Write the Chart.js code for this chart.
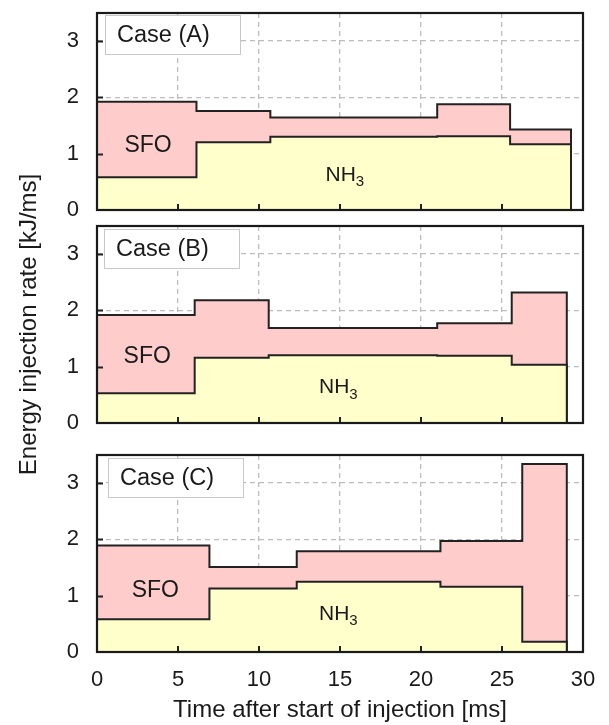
<!DOCTYPE html>
<html>
<head>
<meta charset="utf-8">
<script src="https://cdn.jsdelivr.net/npm/chart.js@4/dist/chart.umd.min.js"></script>
<style>
  html, body { margin:0; padding:0; background:#fff; }
  #wrap { position:relative; width:609px; height:725px; }
  #wrap canvas { position:absolute; left:0; top:0; }
</style>
</head>
<body>
<div id="wrap">
  <canvas id="cA" width="609" height="725"></canvas>
  <canvas id="cB" width="609" height="725"></canvas>
  <canvas id="cC" width="609" height="725"></canvas>
</div>
<script>
// ---- data (time edges in ms, rates in kJ/ms) ----
const caseNames = ['Case (A)', 'Case (B)', 'Case (C)'];
const edgesA = [0, 6.14, 10.7, 21.0, 25.5, 29.26];
const nh3A   = [0.58, 1.205, 1.30, 1.31, 1.17];
const totalA = [1.925, 1.76, 1.645, 1.88, 1.43];

const edgesB = [0, 6.03, 10.6, 21.0, 25.6, 29.0];
const nh3B   = [0.53, 1.16, 1.205, 1.195, 1.035];
const totalB = [1.92, 2.18, 1.69, 1.77, 2.32];

const edgesC = [0, 6.94, 12.33, 21.2, 26.25, 29.0];
const nh3C   = [0.58, 1.13, 1.25, 1.16, 0.18];
const totalC = [1.89, 1.51, 1.79, 1.97, 3.34];

const xTicks = [0, 5, 10, 15, 20, 25, 30];
const yTicks = [0, 1, 2, 3];

// label anchor points (data coords)
const sfoPos = [{x:3.15, y:1.14}, {x:3.1, y:1.17}, {x:3.6, y:1.09}];
const nh3Pos = [{x:15.3, y:0.62}, {x:14.9, y:0.63}, {x:14.9, y:0.67}];

// ---- helpers ----
function steps(edges, vals) {
  const pts = vals.map((v, i) => ({x: edges[i], y: v}));
  pts.push({x: edges[edges.length - 1], y: vals[vals.length - 1]});
  pts.push({x: edges[edges.length - 1], y: 0});
  return pts;
}

const FONT = "'Liberation Sans', Arial, sans-serif";
const TXT = '#1a1a1a';

const deco = {
  id: 'deco',
  afterDraw(chart) {
    const o = chart.options.plugins.deco;
    const {ctx, chartArea: a, scales: {x, y}} = chart;
    ctx.save();
    // inward tick marks
    ctx.strokeStyle = '#222';
    ctx.lineWidth = 2;
    ctx.beginPath();
    yTicks.forEach(v => {
      if (v <= 0) return;
      const py = Math.round(y.getPixelForValue(v)) + 0.5;
      ctx.moveTo(a.left, py); ctx.lineTo(a.left + 6, py);
    });
    xTicks.forEach(v => {
      if (v <= 0 || v >= 30) return;
      const px = Math.round(x.getPixelForValue(v));
      ctx.moveTo(px, a.bottom); ctx.lineTo(px, a.bottom - 6);
    });
    ctx.stroke();
    // frame
    ctx.lineWidth = 2.2;
    ctx.strokeStyle = '#1a1a1a';
    ctx.strokeRect(a.left, a.top, a.right - a.left, a.bottom - a.top);
    // case box
    const bx = a.left + o.boxDx, by = a.top + o.boxDy, bw = 135, bh = 39;
    ctx.fillStyle = '#fff';
    ctx.fillRect(bx, by, bw, bh);
    ctx.strokeStyle = '#c8c8c8';
    ctx.lineWidth = 1;
    ctx.strokeRect(bx + 0.5, by + 0.5, bw, bh);
    ctx.fillStyle = TXT;
    ctx.font = '23.5px ' + FONT;
    ctx.textBaseline = 'middle';
    ctx.textAlign = 'left';
    ctx.fillText(o.name, bx + 12, by + bh / 2 + 1);
    // SFO label
    ctx.textAlign = 'center';
    ctx.font = '23px ' + FONT;
    ctx.fillText('SFO', x.getPixelForValue(o.sfo.x), y.getPixelForValue(o.sfo.y));
    // NH3 label with subscript
    const nx = x.getPixelForValue(o.nh3.x), ny = y.getPixelForValue(o.nh3.y);
    ctx.font = '21px ' + FONT;
    const w1 = ctx.measureText('NH').width;
    ctx.font = '15px ' + FONT;
    const w2 = ctx.measureText('3').width;
    const sx = nx - (w1 + w2) / 2;
    ctx.textAlign = 'left';
    ctx.font = '21px ' + FONT;
    ctx.fillText('NH', sx, ny);
    ctx.font = '15px ' + FONT;
    ctx.fillText('3', sx + w1, ny + 7);
    ctx.restore();
  }
};

function makeChart(id, idx, edges, nh3, total, pad, isBottom, showYTitle, box) {
  const ctx = document.getElementById(id);
  return new Chart(ctx, {
    type: 'line',
    data: {
      datasets: [
        {
          label: 'NH3',
          data: steps(edges, nh3),
          stepped: true,
          borderColor: '#222',
          borderWidth: 2,
          backgroundColor: '#ffffcc',
          fill: 'origin',
          pointRadius: 0
        },
        {
          label: 'SFO',
          data: steps(edges, total),
          stepped: true,
          borderColor: '#222',
          borderWidth: 2,
          backgroundColor: '#ffcccc',
          fill: '-1',
          pointRadius: 0
        }
      ]
    },
    options: {
      responsive: false,
      animation: false,
      devicePixelRatio: 1,
      layout: { padding: pad },
      plugins: {
        legend: { display: false },
        tooltip: { enabled: false },
        deco: { name: caseNames[idx], sfo: sfoPos[idx], nh3: nh3Pos[idx], boxDx: box[0], boxDy: box[1] }
      },
      scales: {
        x: {
          type: 'linear',
          min: 0, max: 30,
          z: 1,
          afterBuildTicks: s => { s.ticks = xTicks.map(v => ({value: v})); },
          afterFit: s => { s.height = isBottom ? 73 : 0; s.paddingLeft = 0; s.paddingRight = 0; },
          grid: { color: '#bdbdbd', lineWidth: 1.3, drawTicks: false },
          border: { display: false, dash: [5, 4] },
          ticks: {
            display: isBottom,
            padding: 15,
            color: TXT,
            font: { family: FONT, size: 22 }
          },
          title: {
            display: isBottom,
            text: 'Time after start of injection [ms]',
            color: TXT,
            font: { family: FONT, size: 24 },
            padding: { top: 0, bottom: 0 }
          }
        },
        y: {
          type: 'linear',
          min: 0, max: 3.5,
          z: 1,
          afterBuildTicks: s => { s.ticks = yTicks.map(v => ({value: v})); },
          afterFit: s => { s.width = 97; s.paddingTop = 0; s.paddingBottom = 0; },
          grid: { color: '#bdbdbd', lineWidth: 1.3, drawTicks: false },
          border: { display: false, dash: [5, 4] },
          ticks: {
            padding: 18,
            color: TXT,
            font: { family: FONT, size: 22 }
          },
          title: {
            display: showYTitle,
            text: 'Energy injection rate [kJ/ms]',
            color: TXT,
            font: { family: FONT, size: 24 },
            padding: { top: 15, bottom: 0 }
          }
        }
      }
    },
    plugins: [deco]
  });
}

makeChart('cA', 0, edgesA, nh3A, totalA, {top: 13, bottom: 515, left: 0, right: 26}, false, false, [8, 2]);
makeChart('cB', 1, edgesB, nh3B, totalB, {top: 226, bottom: 302, left: 0, right: 26}, false, true, [7, 3]);
makeChart('cC', 2, edgesC, nh3C, totalC, {top: 455, bottom: 0, left: 0, right: 26}, true, false, [11, 3]);
</script>
</body>
</html>
